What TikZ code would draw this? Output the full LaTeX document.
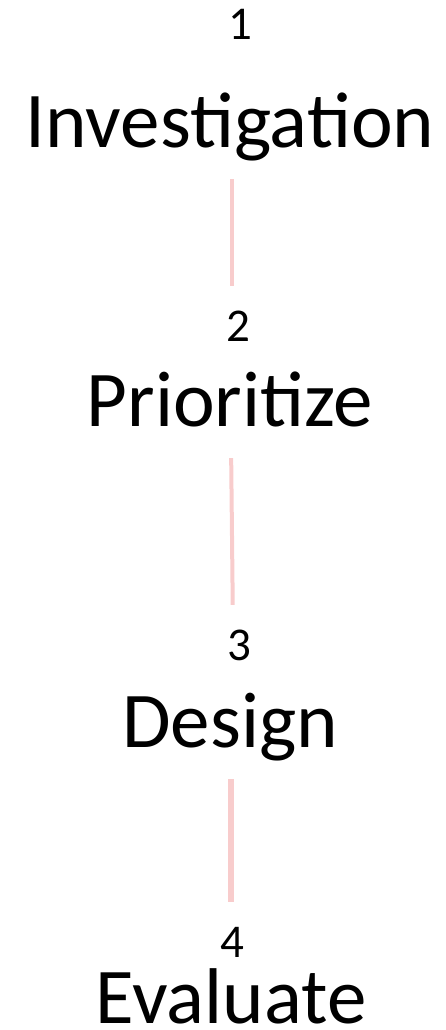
\documentclass[tikz,border=0pt]{standalone}
\usepackage{fontspec}
\setmainfont{Carlito}
\definecolor{linkpink}{RGB}{248,204,204}
\tikzset{
    stepnum/.style={anchor=base,inner sep=0pt,text height=30pt,text depth=0pt,font=\fontsize{47}{50}\selectfont},
    steptitle/.style={anchor=base,inner sep=0pt,text height=50pt,text depth=16pt,font=\fontsize{79}{84}\selectfont},
    link/.style={linkpink,line width=4pt,shorten <=16pt,shorten >=25pt}
}
\begin{document}
\begin{tikzpicture}[x=1pt,y=-1pt]
    \useasboundingbox (0,0) rectangle (446,1030);
    \foreach \i/\t/\nx/\ny/\tx/\ty in {1/Investigation/240/40/230/147,2/Prioritize/238/341/230/426,3/Design/239/660/230/747,4/Evaluate/232/957/231/1023} {
        \node[stepnum] (n\i) at (\nx,\ny) {\i};
        \node[steptitle] (t\i) at (\tx,\ty) {\t};
      }
    \draw[link] ([xshift=2pt]t1.south) -- ([xshift=2pt]t1.south |- n2.north);
    \draw[link] ([xshift=1pt]t2.south) -- ([xshift=3pt]t2.south |- n3.north);
    \draw[link,line width=6pt] ([xshift=1pt]t3.south) -- ([xshift=1pt]t3.south |- n4.north);
  \end{tikzpicture}
\end{document}
